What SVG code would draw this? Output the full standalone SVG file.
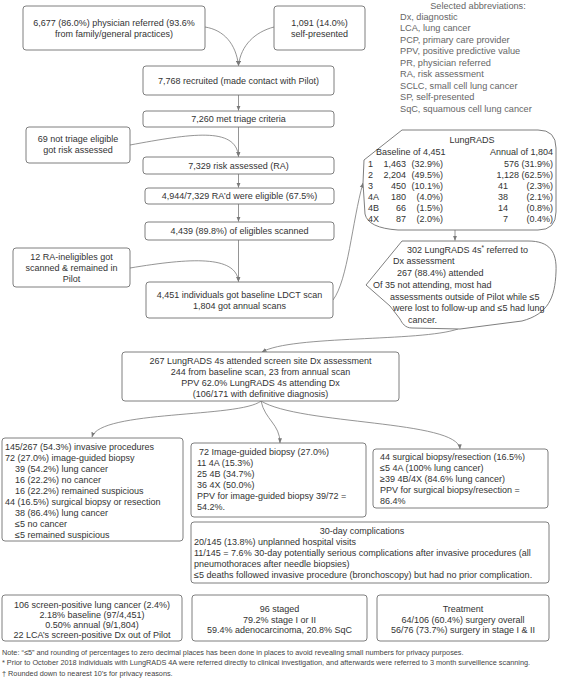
<svg xmlns="http://www.w3.org/2000/svg" width="561" height="685" viewBox="0 0 561 685">
<style>
.box{fill:#fff;stroke:#707070;stroke-width:0.9}
.t{font-family:"Liberation Sans",Arial,sans-serif;font-size:9px;fill:#333}
.c{text-anchor:middle}
.e{text-anchor:end}
.ab{font-family:"Liberation Sans",Arial,sans-serif;font-size:9.2px;fill:#666}
.fn{font-family:"Liberation Sans",Arial,sans-serif;font-size:7.3px;fill:#444}
.con{fill:none;stroke:#7a7a7a;stroke-width:0.8;marker-end:url(#arr)}
</style>
<defs>
<marker id="arr" viewBox="0 0 6 6" refX="5.6" refY="3" markerWidth="5" markerHeight="5" orient="auto" markerUnits="userSpaceOnUse"><path d="M0,0.6 L6,3 L0,5.4 z" fill="#7a7a7a"/></marker>
</defs>
<rect width="561" height="685" fill="#fff"/>

<g id="connectors">
<path class="con" d="M205,27 C224,30 236,44 238.5,65.5"/>
<path class="con" d="M274,27 C255,32 241,45 238.5,65.5"/>
<path class="con" d="M238.5,95 L238.5,110.5"/>
<path class="con" d="M238.5,127 L238.5,156.5"/>
<path class="con" d="M130,145 C190,134 236,126 238.5,156.5"/>
<path class="con" d="M238.5,174 L238.5,187.5"/>
<path class="con" d="M238.5,204 L238.5,221.5"/>
<path class="con" d="M238.5,240 L238.5,281.5"/>
<path class="con" d="M130,268 C190,258 236,255 238.5,281.5"/>
<path class="con" d="M333,300 C348,280 352,222 363,183"/>
<path class="con" d="M455,230 L455,240.5"/>
<path class="con" d="M458,329 C420,342 292,335 262,352"/>
<path class="con" d="M261,401 C240,418 100,410 92,437"/>
<path class="con" d="M261,401 C265,420 280,424 280,443"/>
<path class="con" d="M261,401 C300,425 458,420 460,449"/>
</g>

<g id="abbreviations">
<text class="ab c" x="478" y="8.5">Selected abbreviations:</text>
<text class="ab" x="400" y="19.5">Dx, diagnostic</text>
<text class="ab" x="400" y="31">LCA, lung cancer</text>
<text class="ab" x="400" y="42.5">PCP, primary care provider</text>
<text class="ab" x="400" y="54">PPV, positive predictive value</text>
<text class="ab" x="400" y="65.5">PR, physician referred</text>
<text class="ab" x="400" y="77">RA, risk assessment</text>
<text class="ab" x="400" y="88.5">SCLC, small cell lung cancer</text>
<text class="ab" x="400" y="100">SP, self-presented</text>
<text class="ab" x="400" y="111.5">SqC, squamous cell lung cancer</text>
</g>

<g id="physician-referred">
<rect class="box" x="23" y="6" width="182" height="44" rx="3"/>
<text class="t c" x="114" y="25.7">6,677 (86.0%) physician referred (93.6%</text>
<text class="t c" x="114" y="36.7">from family/general practices)</text>
</g>
<g id="self-presented">
<rect class="box" x="274" y="6" width="91" height="44" rx="3"/>
<text class="t c" x="319.5" y="25.7">1,091 (14.0%)</text>
<text class="t c" x="319.5" y="36.7">self-presented</text>
</g>
<g id="recruited">
<rect class="box" x="143" y="66" width="191" height="29" rx="3"/>
<text class="t c" x="238.5" y="83.7">7,768 recruited (made contact with Pilot)</text>
</g>
<g id="triage">
<rect class="box" x="143" y="111" width="191" height="16" rx="3"/>
<text class="t c" x="238.5" y="122.2">7,260 met triage criteria</text>
</g>
<g id="not-triage">
<rect class="box" x="26" y="127" width="104" height="36" rx="3"/>
<text class="t c" x="78" y="142.2">69 not triage eligible</text>
<text class="t c" x="78" y="153.2">got risk assessed</text>
</g>
<g id="risk-assessed">
<rect class="box" x="143" y="157" width="191" height="17" rx="3"/>
<text class="t c" x="238.5" y="168.7">7,329 risk assessed (RA)</text>
</g>
<g id="eligible">
<rect class="box" x="145" y="188" width="189" height="16" rx="3"/>
<text class="t c" x="239.5" y="199.2">4,944/7,329 RA’d were eligible (67.5%)</text>
</g>
<g id="scanned">
<rect class="box" x="145" y="222" width="189" height="18" rx="3"/>
<text class="t c" x="239.5" y="234.2">4,439 (89.8%) of eligibles scanned</text>
</g>
<g id="ra-ineligible">
<rect class="box" x="13" y="248" width="117" height="39" rx="3"/>
<text class="t c" x="71.5" y="259.7">12 RA-ineligibles got</text>
<text class="t c" x="71.5" y="270.7">scanned &amp; remained in</text>
<text class="t c" x="71.5" y="281.7">Pilot</text>
</g>
<g id="baseline-ldct">
<rect class="box" x="146" y="282" width="187" height="36" rx="3"/>
<text class="t c" x="239.5" y="297.7">4,451 individuals got baseline LDCT scan</text>
<text class="t c" x="239.5" y="308.7">1,804 got annual scans</text>
</g>

<g id="lungrads">
<path class="box" d="M402,130 L538,130 Q556,130 556,148 L556,212 Q556,230 538,230 L398,230 Q368,228 365,214 L363,183 L364,160 Z"/>
<text class="t c" x="472" y="143.2">LungRADS</text>
<text class="t" x="376" y="155.2">Baseline of 4,451</text>
<text class="t e" x="553" y="155.2">Annual of 1,804</text>
<text class="t" x="368" y="167.2">1</text><text class="t e" x="406" y="167.2">1,463</text><text class="t e" x="443" y="167.2">(32.9%)</text><text class="t e" x="553" y="167.2">576 (31.9%)</text>
<text class="t" x="368" y="178.2">2</text><text class="t e" x="406" y="178.2">2,204</text><text class="t e" x="443" y="178.2">(49.5%)</text><text class="t e" x="553" y="178.2">1,128 (62.5%)</text>
<text class="t" x="368" y="189.2">3</text><text class="t e" x="406" y="189.2">450</text><text class="t e" x="443" y="189.2">(10.1%)</text><text class="t e" x="508" y="189.2">41</text><text class="t e" x="553" y="189.2">(2.3%)</text>
<text class="t" x="368" y="200.2">4A</text><text class="t e" x="406" y="200.2">180</text><text class="t e" x="443" y="200.2">(4.0%)</text><text class="t e" x="508" y="200.2">38</text><text class="t e" x="553" y="200.2">(2.1%)</text>
<text class="t" x="368" y="211.2">4B</text><text class="t e" x="406" y="211.2">66</text><text class="t e" x="443" y="211.2">(1.5%)</text><text class="t e" x="508" y="211.2">14</text><text class="t e" x="553" y="211.2">(0.8%)</text>
<text class="t" x="368" y="222.2">4X</text><text class="t e" x="406" y="222.2">87</text><text class="t e" x="443" y="222.2">(2.0%)</text><text class="t e" x="508" y="222.2">7</text><text class="t e" x="553" y="222.2">(0.4%)</text>
</g>

<g id="referred-dx">
<path class="box" d="M402,241 L528,241 C550,241 557,252 556,272 C555,298 548,314 522,321 L460,329 L412,328 C405,328 402,323 400,319 L390,306 L366,285 Z"/>
<text class="t" x="407" y="253.2">302 LungRADS 4s<tspan font-size="6.5" dy="-3">*</tspan><tspan dy="3"> referred to</tspan></text>
<text class="t" x="393" y="264.2">Dx assessment</text>
<text class="t" x="397" y="276.2">267 (88.4%) attended</text>
<text class="t" x="373" y="288.2">Of 35 not attending, most had</text>
<text class="t" x="390" y="300.2">assessments outside of Pilot while ≤5</text>
<text class="t" x="393" y="311.2">were lost to follow-up and ≤5 had lung</text>
<text class="t" x="408" y="323.2">cancer.</text>
</g>

<g id="attended-dx">
<rect class="box" x="122" y="352" width="277" height="49" rx="3"/>
<text class="t c" x="260.5" y="364.2">267 LungRADS 4s attended screen site Dx assessment</text>
<text class="t c" x="260.5" y="375.2">244 from baseline scan, 23 from annual scan</text>
<text class="t c" x="260.5" y="386.2">PPV 62.0% LungRADS 4s attending Dx</text>
<text class="t c" x="260.5" y="397.2">(106/171 with definitive diagnosis)</text>
</g>

<g id="invasive">
<rect class="box" x="2" y="438" width="181" height="103" rx="3"/>
<text class="t" x="5" y="450.2">145/267 (54.3%) invasive procedures</text>
<text class="t" x="5" y="461.2">72 (27.0%) image-guided biopsy</text>
<text class="t" x="15" y="472.2">39 (54.2%) lung cancer</text>
<text class="t" x="15" y="483.2">16 (22.2%) no cancer</text>
<text class="t" x="15" y="494.2">16 (22.2%) remained suspicious</text>
<text class="t" x="5" y="505.2">44 (16.5%) surgical biopsy or resection</text>
<text class="t" x="15" y="516.2">38 (86.4%) lung cancer</text>
<text class="t" x="15" y="527.2">≤5 no cancer</text>
<text class="t" x="15" y="538.2">≤5 remained suspicious</text>
</g>

<g id="image-guided">
<rect class="box" x="191" y="443" width="175" height="74" rx="3"/>
<text class="t" x="199" y="455.2">72 Image-guided biopsy (27.0%)</text>
<text class="t" x="197" y="466.2">11 4A (15.3%)</text>
<text class="t" x="197" y="477.2">25 4B (34.7%)</text>
<text class="t" x="197" y="488.2">36 4X (50.0%)</text>
<text class="t" x="197" y="499.2">PPV for image-guided biopsy 39/72 =</text>
<text class="t" x="197" y="510.2">54.2%.</text>
</g>

<g id="surgical">
<rect class="box" x="373" y="449" width="175" height="59" rx="3"/>
<text class="t" x="380" y="460.2">44 surgical biopsy/resection (16.5%)</text>
<text class="t" x="380" y="471.2">≤5 4A (100% lung cancer)</text>
<text class="t" x="380" y="482.2">≥39 4B/4X (84.6% lung cancer)</text>
<text class="t" x="380" y="493.2">PPV for surgical biopsy/resection =</text>
<text class="t" x="380" y="504.2">86.4%</text>
</g>

<g id="complications">
<rect class="box" x="191" y="522" width="358" height="61" rx="3"/>
<text class="t c" x="362" y="534.2">30-day complications</text>
<text class="t" x="194" y="545.2">20/145 (13.8%) unplanned hospital visits</text>
<text class="t" x="194" y="556.2">11/145 = 7.6% 30-day potentially serious complications after invasive procedures (all</text>
<text class="t" x="194" y="567.2">pneumothoraces after needle biopsies)</text>
<text class="t" x="194" y="578.2">≤5 deaths followed invasive procedure (bronchoscopy) but had no prior complication.</text>
</g>

<g id="screen-positive">
<rect class="box" x="2" y="595" width="180" height="46" rx="3"/>
<text class="t c" x="92" y="607.7">106 screen-positive lung cancer (2.4%)</text>
<text class="t c" x="92" y="617.7">2.18% baseline (97/4,451)</text>
<text class="t c" x="92" y="627.7">0.50% annual (9/1,804)</text>
<text class="t c" x="92" y="637.7">22 LCA’s screen-positive Dx out of Pilot</text>
</g>
<g id="staged">
<rect class="box" x="192" y="595" width="175" height="46" rx="3"/>
<text class="t c" x="279.5" y="612.2">96 staged</text>
<text class="t c" x="279.5" y="622.7">79.2% stage I or II</text>
<text class="t c" x="279.5" y="633.2">59.4% adenocarcinoma, 20.8% SqC</text>
</g>
<g id="treatment">
<rect class="box" x="377" y="595" width="172" height="46" rx="3"/>
<text class="t c" x="463" y="612.2">Treatment</text>
<text class="t c" x="463" y="622.7">64/106 (60.4%) surgery overall</text>
<text class="t c" x="463" y="633.2">56/76 (73.7%) surgery in stage I &amp; II</text>
</g>

<g id="footnotes">
<text class="fn" x="2" y="654.5">Note: “≤5” and rounding of percentages to zero decimal places has been done in places to avoid revealing small numbers for privacy purposes.</text>
<text class="fn" x="2" y="665">* Prior to October 2018 individuals with LungRADS 4A were referred directly to clinical investigation, and afterwards were referred to 3 month surveillence scanning.</text>
<text class="fn" x="2" y="675.5">† Rounded down to nearest 10’s for privacy reasons.</text>
</g>
</svg>
